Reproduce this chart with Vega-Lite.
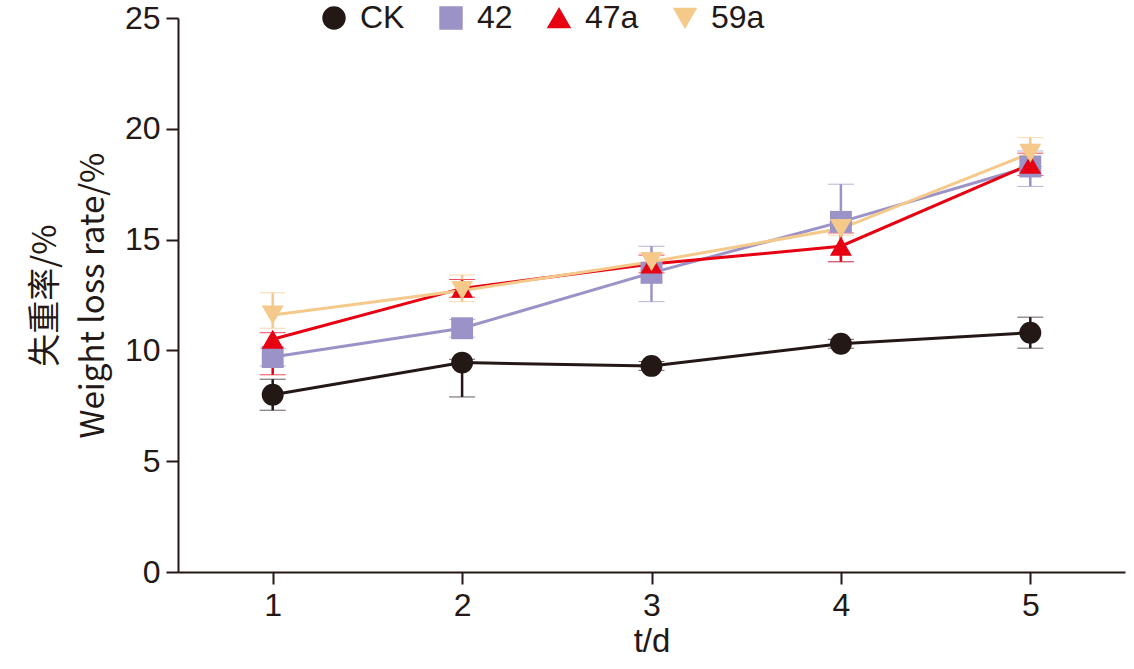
{
  "$schema": "https://vega.github.io/schema/vega-lite/v6.json",
  "width": 947,
  "height": 554,
  "autosize": "none",
  "padding": {"left": 178, "top": 18, "right": 9, "bottom": 97},
  "config": {
    "font": "Liberation Sans",
    "view": {"stroke": null},
    "axis": {"grid": false, "domainColor": "#231815", "tickColor": "#231815", "domainWidth": 2, "tickWidth": 2, "tickSize": 12, "labelFontSize": 32, "labelColor": "#231815", "titleFontSize": 33, "titleFontWeight": "normal", "titleColor": "#231815", "labelPadding": 6}
  },
  "data": {"values": [
    {"t": 1, "g": "CK", "v": 8.0, "lo": 7.3, "hi": 8.7},
    {"t": 2, "g": "CK", "v": 9.45, "lo": 7.9, "hi": 9.6},
    {"t": 3, "g": "CK", "v": 9.3, "lo": 9.1, "hi": 9.5},
    {"t": 4, "g": "CK", "v": 10.3, "lo": 10.1, "hi": 10.5},
    {"t": 5, "g": "CK", "v": 10.8, "lo": 10.1, "hi": 11.5},
    {"t": 1, "g": "42", "v": 9.7, "lo": 9.3, "hi": 10.1},
    {"t": 2, "g": "42", "v": 11.0, "lo": 10.6, "hi": 11.4},
    {"t": 3, "g": "42", "v": 13.5, "lo": 12.2, "hi": 14.7},
    {"t": 4, "g": "42", "v": 15.8, "lo": 14.0, "hi": 17.5},
    {"t": 5, "g": "42", "v": 18.3, "lo": 17.4, "hi": 19.0},
    {"t": 1, "g": "47a", "v": 10.5, "lo": 8.9, "hi": 10.8},
    {"t": 2, "g": "47a", "v": 12.8, "lo": 12.4, "hi": 13.2},
    {"t": 3, "g": "47a", "v": 13.9, "lo": 13.5, "hi": 14.3},
    {"t": 4, "g": "47a", "v": 14.7, "lo": 14.0, "hi": 15.3},
    {"t": 5, "g": "47a", "v": 18.4, "lo": 17.9, "hi": 18.9},
    {"t": 1, "g": "59a", "v": 11.6, "lo": 11.0, "hi": 12.6},
    {"t": 2, "g": "59a", "v": 12.7, "lo": 12.2, "hi": 13.4},
    {"t": 3, "g": "59a", "v": 14.0, "lo": 13.6, "hi": 14.4},
    {"t": 4, "g": "59a", "v": 15.5, "lo": 15.2, "hi": 15.8},
    {"t": 5, "g": "59a", "v": 18.9, "lo": 18.3, "hi": 19.6}
  ]},
  "encoding": {
    "x": {"field": "t", "type": "quantitative", "scale": {"domain": [0.5, 5.5], "nice": false}, "axis": {"values": [1, 2, 3, 4, 5], "title": "t/d", "titlePadding": 4}},
    "color": {"field": "g", "type": "nominal", "sort": ["CK", "42", "47a", "59a"], "scale": {"domain": ["CK", "42", "47a", "59a"], "range": ["#231815", "#9b93c7", "#e60012", "#f5c98a"]},
      "legend": {"orient": "none", "legendX": 140, "legendY": -16, "direction": "horizontal", "title": null, "labelFontSize": 32, "labelColor": "#231815", "symbolSize": 480, "symbolOpacity": 1, "columnPadding": 30, "labelOffset": 10}}
  },
  "layer": [
    {
      "mark": {"type": "errorbar", "ticks": {"size": 26, "strokeWidth": 2.5}, "rule": {"strokeWidth": 2.5}},
      "encoding": {
        "y": {"field": "lo", "type": "quantitative", "scale": {"domain": [0, 25], "nice": false}, "axis": {"values": [0, 5, 10, 15, 20, 25], "title": ["失重率/%", "Weight loss rate/%"], "titleFont": "Noto Sans CJK SC", "titlePadding": 14, "titleLineHeight": 48}},
        "y2": {"field": "hi"}
      }
    },
    {
      "mark": {"type": "line", "strokeWidth": 3},
      "encoding": {"y": {"field": "v", "type": "quantitative"}}
    },
    {
      "mark": {"type": "point", "filled": true, "opacity": 1, "size": 480},
      "encoding": {
        "y": {"field": "v", "type": "quantitative"},
        "shape": {"field": "g", "type": "nominal", "sort": ["CK", "42", "47a", "59a"], "scale": {"domain": ["CK", "42", "47a", "59a"], "range": ["circle", "square", "triangle-up", "triangle-down"]}}
      }
    }
  ]
}
